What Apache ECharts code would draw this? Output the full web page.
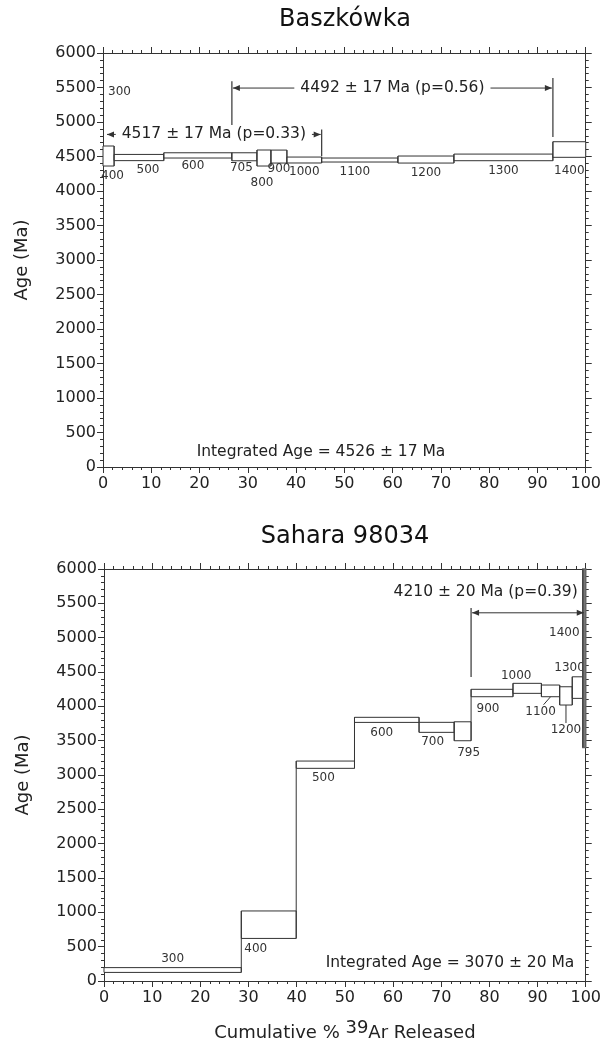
<!DOCTYPE html>
<html>
<head>
<meta charset="utf-8">
<script src="https://cdn.jsdelivr.net/npm/echarts@6/dist/echarts.min.js"></script>
<style>
html,body{margin:0;padding:0;background:#fff}
#main{width:604px;height:1048px}
</style>
</head>
<body>
<div id="main"></div>
<script>
var FONT = '"DejaVu Sans"';
var INK = '#333';

// Baszkowka step heating
var baszSteps = ['400','500','600','705','800','900','1000','1100','1200','1300','1400'];
var baszEdges = [0, 2.3, 12.6, 26.7, 31.9, 34.8, 38.1, 45.3, 61.1, 72.7, 93.2, 100]; // cumulative % 39Ar
var baszAge = [4507, 4485, 4516, 4496, 4478, 4499, 4449, 4449, 4456, 4487, 4601];
var baszErr = [145, 45, 38, 58, 116, 94, 43, 29, 51, 48, 113];
var baszPlateaus = [
	{label: '4517 ± 17 Ma (p=0.33)', from: '400', to: '1000'},
	{label: '4492 ± 17 Ma (p=0.56)', from: '705', to: '1300'}
];
var baszIntegrated = 'Integrated Age = 4526 ± 17 Ma';

// Sahara 98034 step heating
var sahSteps = ['300','400','500','600','700','795','900','1000','1100','1200','1300','1400'];
var sahEdges = [0, 28.5, 39.9, 52.0, 65.4, 72.7, 76.2, 84.9, 90.8, 94.6, 97.2, 99.4, 100];
var sahAge = [160, 820, 3150, 3803, 3694, 3637, 4194, 4262, 4225, 4152, 4273, 4900];
var sahErr = [35, 200, 53, 37, 73, 138, 54, 73, 85, 133, 157, 1500];
var sahPlateaus = [
	{label: '4210 ± 20 Ma (p=0.39)', from: '900', to: '1400'}
];
var sahIntegrated = 'Integrated Age = 3070 ± 20 Ma';

var xTicks = {min: 0, max: 100, interval: 10};
var yTicks = {min: 0, max: 6000, interval: 500};

// where the step labels and plateau brackets sit (px nudges / Ma)
var baszNudge = {
	'400': {dx: 4}, '500': {dx: 9, dy: -1}, '600': {dx: -5, dy: -2}, '705': {dx: -3, dy: -3},
	'800': {dx: -2, dy: 7}, '900': {dy: -4}, '1000': {dy: -1}, '1100': {dx: -5}, '1400': {dy: 4}
};
var sahNudge = {
	'300': {above: true}, '400': {dx: -13}, '500': {dx: -2}, '600': {dx: -5}, '700': {dx: -4},
	'795': {dx: 6, dy: 2}, '900': {dx: -4, dy: 2}, '1000': {above: true, dx: -11, dy: 2},
	'1100': {dx: -10, dy: 5, leader: true}, '1200': {dy: 15, leader: true},
	'1300': {above: true, dx: -8}, '1400': {dx: -20, dy: -125}
};
var baszBrackets = [
	{y: 4820, leftBar: null, rightBar: [4892, 4502]},
	{y: 5492, leftBar: [5590, 4955], rightBar: [5636, 4782]}
];
var sahBrackets = [
	{y: 5362, leftBar: [5431, 4426], rightBar: null, textAbove: true}
];

function stepData(edges, ages, errs){
	var out = [];
	for (var i = 0; i < ages.length; i++) {
		out.push([edges[i], edges[i+1], ages[i]-errs[i], Math.min(ages[i]+errs[i], yTicks.max)]);
	}
	return out;
}

function stepRenderer(steps, nudges){
	return function (params, api) {
		var i = params.dataIndex;
		var lo = api.value(2), hi = api.value(3);
		var a = api.coord([api.value(0), hi]);
		var b = api.coord([api.value(1), lo]);
		var narrow = (b[0]-a[0]) < 5;
		var kids = [{
			type: 'rect',
			shape: {x: a[0], y: a[1], width: b[0]-a[0], height: b[1]-a[1]},
			style: {fill: narrow ? '#777' : '#fff', stroke: narrow ? '#666' : INK, lineWidth: narrow ? 1.5 : 1}
		}];
		if (i > 0) {
			var prev = params.context.prev;
			var c1 = api.coord([api.value(0), Math.max(hi, prev[1])]);
			var c2 = api.coord([api.value(0), Math.min(lo, prev[0])]);
			kids.push({type: 'line', shape: {x1: c1[0], y1: c1[1], x2: c2[0], y2: c2[1]},
				style: {stroke: INK, lineWidth: 1}});
		}
		params.context.prev = [lo, hi];
		var n = nudges[steps[i]] || {};
		var mx = (a[0]+b[0])/2;
		var cx = mx + (n.dx || 0);
		var cy = (n.above ? a[1]-9 : b[1]+10) + (n.dy || 0);
		if (n.leader) {
			kids.push({type: 'line', shape: {x1: mx, y1: b[1], x2: cx+ (mx-cx)*0.3, y2: cy-7},
				style: {stroke: INK, lineWidth: 1}});
		}
		kids.push({type: 'text', x: cx, y: cy,
			style: {text: steps[i], align: 'center', verticalAlign: 'middle', font: '12px ' + FONT, fill: INK}});
		return {type: 'group', children: kids};
	};
}

function plateauRenderer(plats, layout, steps, edges){
	return function (params, api) {
		var p = plats[params.dataIndex], L = layout[params.dataIndex];
		var x1 = edges[steps.indexOf(p.from)], x2 = edges[steps.indexOf(p.to)+1];
		var a = api.coord([x1, L.y]), b = api.coord([x2, L.y]);
		var y = a[1];
		var lx = a[0] + (L.leftBar ? 1 : 4);
		var rx = b[0] - (L.rightBar ? 1 : 2);
		var kids = [];
		kids.push({type: 'line', shape: {x1: lx, y1: y, x2: rx, y2: y}, style: {stroke: INK, lineWidth: 1}});
		kids.push({type: 'polygon', shape: {points: [[lx, y], [lx+7, y-3], [lx+7, y+3]]}, style: {fill: INK}});
		kids.push({type: 'polygon', shape: {points: [[rx, y], [rx-7, y-3], [rx-7, y+3]]}, style: {fill: INK}});
		if (L.leftBar) {
			var l1 = api.coord([x1, L.leftBar[0]]), l2 = api.coord([x1, L.leftBar[1]]);
			kids.push({type: 'line', shape: {x1: l1[0], y1: l1[1], x2: l2[0], y2: l2[1]}, style: {stroke: INK, lineWidth: 1.2}});
		}
		if (L.rightBar) {
			var r1 = api.coord([x2, L.rightBar[0]]), r2 = api.coord([x2, L.rightBar[1]]);
			kids.push({type: 'line', shape: {x1: r1[0], y1: r1[1], x2: r2[0], y2: r2[1]}, style: {stroke: INK, lineWidth: 1.2}});
		}
		if (L.textAbove) {
			kids.push({type: 'text', x: rx - 6, y: y - 21,
				style: {text: p.label, align: 'right', verticalAlign: 'middle', font: '15.5px ' + FONT, fill: '#222'}});
		} else {
			kids.push({type: 'text', x: (lx+rx)/2, y: y,
				style: {text: p.label, align: 'center', verticalAlign: 'middle', font: '15.5px ' + FONT, fill: '#222',
					backgroundColor: '#fff', padding: [1, 6]}});
		}
		return {type: 'group', children: kids};
	};
}

function plain(v){ return String(v); }

function xAxis(grid, pos, labels, name){
	return {
		type: 'value', gridIndex: grid, position: pos,
		min: xTicks.min, max: xTicks.max, interval: xTicks.interval,
		name: name || '', nameLocation: 'middle', nameGap: 38,
		nameTextStyle: {
			rich: {
				n: {fontSize: 18, fontFamily: 'DejaVu Sans', color: '#222', verticalAlign: 'bottom'},
				s: {fontSize: 18, fontFamily: 'DejaVu Sans', color: '#222', verticalAlign: 'top', padding: [0, 0, 5, 0]}
			}
		},
		axisLine: {show: true, onZero: false, lineStyle: {color: INK, width: 1}},
		axisTick: {show: true, inside: false, length: 6, lineStyle: {color: INK}},
		minorTick: {show: true, splitNumber: 5, length: 3, lineStyle: {color: INK}},
		axisLabel: {show: labels, margin: 9, fontSize: 16, color: '#222', fontFamily: 'DejaVu Sans', formatter: plain},
		splitLine: {show: false}, minorSplitLine: {show: false}
	};
}
function yAxis(grid, pos, labels){
	return {
		type: 'value', gridIndex: grid, position: pos,
		min: yTicks.min, max: yTicks.max, interval: yTicks.interval,
		name: labels ? 'Age (Ma)' : '', nameLocation: 'middle', nameGap: 72,
		nameTextStyle: {fontSize: 18, fontFamily: 'DejaVu Sans', color: '#222'},
		axisLine: {show: true, onZero: false, lineStyle: {color: INK, width: 1}},
		axisTick: {show: true, inside: false, length: 6, lineStyle: {color: INK}},
		minorTick: {show: true, splitNumber: 5, length: 3, lineStyle: {color: INK}},
		axisLabel: {show: labels, margin: 7, fontSize: 16, color: '#222', fontFamily: 'DejaVu Sans', formatter: plain},
		splitLine: {show: false}, minorSplitLine: {show: false}
	};
}

var myChart = echarts.init(document.getElementById('main'), null, {renderer: 'canvas'});

var option = {
	animation: false,
	backgroundColor: '#fff',
	grid: [
		{left: 103, top: 53, width: 483, height: 414},
		{left: 104, top: 569, width: 484, height: 412}
	],
	xAxis: [
		xAxis(0, 'bottom', true),
		xAxis(0, 'top', false),
		xAxis(1, 'bottom', true, '{n|Cumulative % }{s|39}{n|Ar Released}'),
		xAxis(1, 'top', false)
	],
	yAxis: [
		yAxis(0, 'left', true),
		yAxis(0, 'right', false),
		yAxis(1, 'left', true),
		yAxis(1, 'right', false)
	],
	graphic: [
		{type: 'text', x: 345, y: 20, style: {text: 'Baszkówka', align: 'center', verticalAlign: 'middle', font: '24px ' + FONT, fill: '#111'}},
		{type: 'text', x: 345, y: 537, style: {text: 'Sahara 98034', align: 'center', verticalAlign: 'middle', font: '24px ' + FONT, fill: '#111'}},
		{type: 'text', x: 321, y: 452, style: {text: baszIntegrated, align: 'center', verticalAlign: 'middle', font: '15.5px ' + FONT, fill: '#222'}},
		{type: 'text', x: 450, y: 963, style: {text: sahIntegrated, align: 'center', verticalAlign: 'middle', font: '15.5px ' + FONT, fill: '#222'}},
		{type: 'text', x: 108, y: 92, style: {text: '300', align: 'left', verticalAlign: 'middle', font: '12px ' + FONT, fill: INK}}
	],
	series: [
		{
			type: 'custom', name: 'Baszkowka', xAxisIndex: 0, yAxisIndex: 0,
			renderItem: stepRenderer(baszSteps, baszNudge),
			data: stepData(baszEdges, baszAge, baszErr)
		},
		{
			type: 'custom', name: 'Baszkowka plateau', xAxisIndex: 0, yAxisIndex: 0,
			renderItem: plateauRenderer(baszPlateaus, baszBrackets, baszSteps, baszEdges),
			data: baszPlateaus.map(function (p, i) { return [i]; })
		},
		{
			type: 'custom', name: 'Sahara 98034', xAxisIndex: 2, yAxisIndex: 2,
			renderItem: stepRenderer(sahSteps, sahNudge),
			data: stepData(sahEdges, sahAge, sahErr)
		},
		{
			type: 'custom', name: 'Sahara plateau', xAxisIndex: 2, yAxisIndex: 2,
			renderItem: plateauRenderer(sahPlateaus, sahBrackets, sahSteps, sahEdges),
			data: sahPlateaus.map(function (p, i) { return [i]; })
		}
	]
};
myChart.setOption(option);
</script>
</body>
</html>
